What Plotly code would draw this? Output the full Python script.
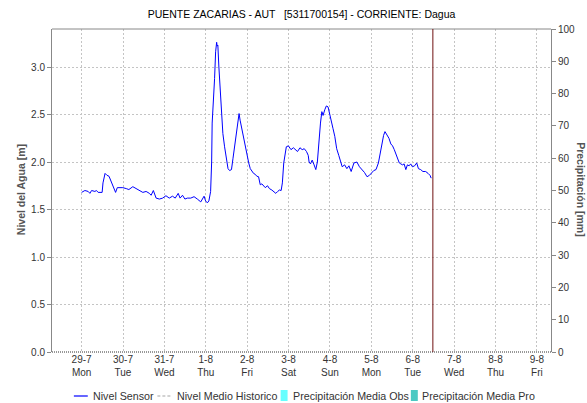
import pandas as pd
import plotly.graph_objects as go

# ---- data ----
start_time = "2019-07-29 00:00"
hours = [0.0, 1.9, 3.8, 4.8, 5.8, 7.7, 8.6, 9.6, 11.9, 12.4, 13.6, 14.7, 15.9, 17.3, 18.6, 19.7,
         20.7, 22.0, 23.9, 25.9, 27.4, 29.7, 31.7, 33.6, 35.5, 37.4, 39.3, 40.3, 41.6, 43.2,
         45.1, 47.0, 48.9, 50.8, 52.7, 54.3, 56.0, 57.1, 58.5, 59.9, 61.3, 63.3, 65.2, 67.1,
         69.1, 71.0, 71.9, 72.9, 73.8, 74.8, 75.4, 75.7, 76.5, 77.1, 77.7, 78.3, 78.6, 79.0,
         79.6, 80.3, 81.1, 81.9, 82.9, 83.8, 84.9, 85.8, 86.9, 87.8, 88.8, 89.8, 90.7, 91.3,
         91.9, 93.0, 94.0, 95.0, 95.9, 96.9, 97.8, 98.8, 99.7, 100.7, 101.6, 102.6, 103.6,
         104.5, 105.5, 106.5, 107.8, 108.9, 110.3, 111.6, 112.6, 113.7, 114.7, 115.7, 116.4,
         117.2, 118.0, 118.7, 119.9, 121.4, 122.8, 124.1, 125.2, 126.6, 127.9, 129.1, 130.4,
         131.4, 131.9, 132.7, 133.7, 134.8, 135.8, 136.7, 137.5, 138.5, 139.3, 140.0, 141.0,
         141.9, 142.9, 143.9, 144.8, 145.8, 146.8, 147.9, 149.1, 150.2, 151.1, 152.5, 153.8,
         155.0, 156.3, 157.9, 159.6, 161.1, 162.5, 164.0, 165.5, 166.9, 169.4, 170.7, 172.1,
         173.2, 174.0, 175.1, 175.9, 177.0, 178.2, 179.3, 180.3, 181.3, 182.2, 183.2, 184.2,
         185.1, 186.1, 187.0, 188.0, 188.9, 189.9, 190.8, 191.8, 193.1, 194.3, 195.3, 196.6,
         197.9, 199.5, 200.9, 202.0, 202.7]
nivel_sensor = [1.68, 1.70, 1.69, 1.67, 1.70, 1.69, 1.70, 1.68, 1.68, 1.78, 1.88, 1.86, 1.85, 1.79,
                1.73, 1.68, 1.73, 1.73, 1.73, 1.72, 1.71, 1.74, 1.72, 1.70, 1.68, 1.69, 1.67, 1.65,
                1.70, 1.62, 1.61, 1.62, 1.645, 1.62, 1.64, 1.62, 1.67, 1.62, 1.65, 1.61, 1.62, 1.62,
                1.635, 1.61, 1.58, 1.64, 1.59, 1.57, 1.59, 1.69, 2.00, 2.41, 2.65, 2.88, 3.16, 3.26,
                3.22, 3.23, 3.00, 2.76, 2.49, 2.30, 2.16, 2.04, 1.93, 1.91, 1.92, 2.04, 2.18, 2.34,
                2.44, 2.51, 2.44, 2.34, 2.23, 2.14, 2.06, 1.99, 1.93, 1.90, 1.88, 1.87, 1.85, 1.845,
                1.76, 1.77, 1.75, 1.73, 1.75, 1.72, 1.705, 1.69, 1.67, 1.69, 1.705, 1.70, 1.78,
                1.99, 2.11, 2.16, 2.17, 2.13, 2.15, 2.13, 2.11, 2.15, 2.13, 2.14, 2.11, 2.07, 2.00,
                1.98, 2.02, 1.97, 1.92, 2.00, 2.20, 2.41, 2.53, 2.49, 2.55, 2.59, 2.58, 2.51, 2.44,
                2.35, 2.27, 2.14, 2.07, 2.00, 1.95, 1.97, 1.93, 1.96, 1.90, 1.99, 2.00, 1.95, 1.92,
                1.89, 1.845, 1.86, 1.91, 1.92, 1.99, 2.09, 2.20, 2.28, 2.32, 2.29, 2.25, 2.19, 2.17,
                2.13, 2.09, 2.04, 1.99, 1.98, 1.97, 1.98, 1.92, 1.97, 1.96, 1.98, 1.95, 1.96, 1.99,
                1.93, 1.92, 1.90, 1.90, 1.88, 1.86, 1.83]

tick_dates = ["2019-07-29", "2019-07-30", "2019-07-31", "2019-08-01", "2019-08-02", "2019-08-03",
              "2019-08-04", "2019-08-05", "2019-08-06", "2019-08-07", "2019-08-08", "2019-08-09"]
tick_labels = ["29-7<br>Mon", "30-7<br>Tue", "31-7<br>Wed", "1-8<br>Thu", "2-8<br>Fri", "3-8<br>Sat",
               "4-8<br>Sun", "5-8<br>Mon", "6-8<br>Tue", "7-8<br>Wed", "8-8<br>Thu", "9-8<br>Fri"]
x_range = ["2019-07-28 06:50", "2019-08-09 08:10"]
now_marker = "2019-08-06 11:40"
left_range = [0, 3.4]
left_ticks = [0.0, 0.5, 1.0, 1.5, 2.0, 2.5, 3.0]
right_range = [0, 100]
right_ticks = [0, 10, 20, 30, 40, 50, 60, 70, 80, 90, 100]

title_text = "PUENTE ZACARIAS - AUT   [5311700154] - CORRIENTE: Dagua"
legend_names = ["Nivel Sensor", "Nivel Medio Historico", "Precipitación Media Obs", "Precipitación Media Pro"]

FONT = "Liberation Sans, Arial, sans-serif"
W, H = 587, 403
ML, MR, MT, MB = 52, 33, 29, 51
PW, PH = W - ML - MR, H - MT - MB


def px(x):
    return (x - ML) / PW


def py(y):
    return (H - MB - y) / PH


times = pd.Timestamp(start_time) + pd.to_timedelta(hours, unit="h")

fig = go.Figure()
fig.add_trace(go.Scatter(x=times, y=nivel_sensor, mode="lines", name=legend_names[0],
                         line=dict(color="#0000FF", width=1), showlegend=False))
fig.add_trace(go.Bar(x=[], y=[], name=legend_names[2], marker_color="#66FFFF",
                     yaxis="y2", showlegend=False))
fig.add_trace(go.Bar(x=[], y=[], name=legend_names[3], marker_color="#4CC9C3",
                     yaxis="y2", showlegend=False))

grid = dict(showgrid=True, gridcolor="#C4C4C4", griddash="2px,2px", gridwidth=1)
fig.update_layout(
    width=W, height=H, margin=dict(l=ML, r=MR, t=MT, b=MB),
    paper_bgcolor="white", plot_bgcolor="white",
    font=dict(family=FONT, size=10, color="#333333"),
    title=dict(text=title_text, x=0.5, xref="paper", xanchor="center",
               y=1 - 14 / H, yref="container", yanchor="middle",
               font=dict(family=FONT, size=10.5, color="#000000")),
    xaxis=dict(type="date", range=x_range, tickmode="array", tickvals=tick_dates,
               ticktext=tick_labels, ticks="", showline=False, zeroline=False,
               tickfont=dict(size=10, color="#333333"), **grid),
    yaxis=dict(range=left_range, tickmode="array", tickvals=left_ticks, tickformat=".1f",
               ticks="outside", ticklen=4, tickcolor="#888888", showline=True,
               linecolor="#888888", linewidth=1, zeroline=False,
               tickfont=dict(size=10, color="#333333"), **grid),
    yaxis2=dict(range=right_range, overlaying="y", side="right", tickmode="array",
                tickvals=right_ticks, ticks="outside", ticklen=4, tickcolor="#888888",
                showline=True, linecolor="#888888", linewidth=1, showgrid=False,
                zeroline=False, tickfont=dict(size=10, color="#333333")),
    showlegend=False,
)

# frame: top border and dotted baseline
fig.add_shape(type="line", xref="paper", yref="paper", x0=0, x1=1, y0=1, y1=1,
              line=dict(color="#888888", width=1))
fig.add_shape(type="line", xref="paper", yref="paper", x0=0, x1=1, y0=0, y1=0,
              line=dict(color="#333333", width=1, dash="1px,1px"))
# current time marker
fig.add_shape(type="line", xref="x", yref="paper", x0=now_marker, x1=now_marker, y0=0, y1=1,
              line=dict(color="#701010", width=1))

# axis titles
fig.add_annotation(text="<b>Nivel del Agua [m]</b>", xref="paper", yref="paper",
                   x=px(21), y=py(190), xanchor="center", yanchor="middle",
                   textangle=-90, showarrow=False,
                   font=dict(family=FONT, size=10.5, color="#555555"))
fig.add_annotation(text="<b>Precipitación [mm]</b>", xref="paper", yref="paper",
                   x=px(584), y=py(190), xanchor="center", yanchor="middle",
                   textangle=90, showarrow=False,
                   font=dict(family=FONT, size=10.5, color="#555555"))

# legend (manual)
ly = py(396)
fig.add_shape(type="line", xref="paper", yref="paper", x0=px(74), x1=px(88), y0=ly, y1=ly,
              line=dict(color="#0000FF", width=1.2))
fig.add_shape(type="line", xref="paper", yref="paper", x0=px(158), x1=px(172), y0=ly, y1=ly,
              line=dict(color="#C4C4C4", width=1.5, dash="3px,2px"))
fig.add_shape(type="rect", xref="paper", yref="paper", x0=px(282), x1=px(289), y0=py(401),
              y1=py(390), fillcolor="#66FFFF", line=dict(width=0))
fig.add_shape(type="rect", xref="paper", yref="paper", x0=px(413), x1=px(420), y0=py(401),
              y1=py(390), fillcolor="#4CC9C3", line=dict(width=0))
for name, xpos in zip(legend_names, [91, 176, 292, 422]):
    fig.add_annotation(text=name, xref="paper", yref="paper", x=px(xpos), y=ly,
                       xanchor="left", yanchor="middle", showarrow=False,
                       font=dict(family=FONT, size=10.7, color="#333333"))

fig.write_html("out.html", config={"displayModeBar": False},
               post_script="document.body.style.margin='0px';")
